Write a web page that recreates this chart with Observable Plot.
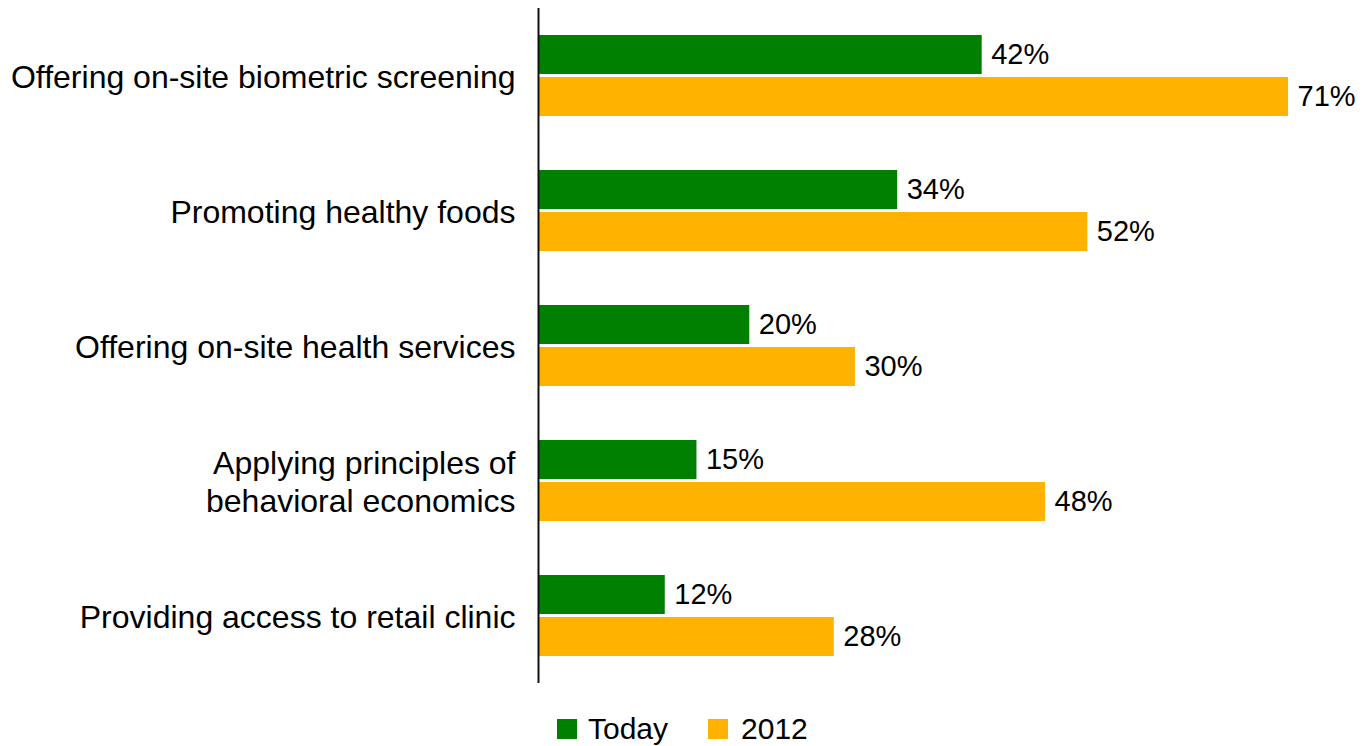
<!DOCTYPE html>
<html>
<head>
<meta charset="utf-8">
<script src="https://cdn.jsdelivr.net/npm/d3@7"></script>
<script src="https://cdn.jsdelivr.net/npm/@observablehq/plot@0.6"></script>
<style>
  body { margin: 0; background: #fff; font-family: "Liberation Sans", Arial, sans-serif; }
  #legend { display: flex; align-items: center; margin-top: 22px; margin-left: 557px; font-size: 30px; line-height: 34px; color: #000; }
  .sw { width: 20px; height: 20px; display: inline-block; margin-right: 11px; }
  .item { display: flex; align-items: center; }
  .item + .item { margin-left: 40px; }
  .item:last-child .sw { margin-right: 13px; }
</style>
</head>
<body>
<div id="chart"></div>
<div id="legend"></div>
<script>
const categories = [
  "Offering on-site biometric screening",
  "Promoting healthy foods",
  "Offering on-site health services",
  "Applying principles of\nbehavioral economics",
  "Providing access to retail clinic"
];
const series = ["Today", "2012"];
const todayValues = [42, 34, 20, 15, 12];
const values2012 = [71, 52, 30, 48, 28];
const colors = ["#008000", "#ffb300"];

const data = categories.flatMap((c, i) => [
  {category: c, series: "Today", value: todayValues[i]},
  {category: c, series: "2012", value: values2012[i]}
]);

const chart = Plot.plot({
  width: 1364,
  height: 690,
  marginLeft: 538,
  marginRight: 2,
  marginTop: 8,
  marginBottom: 7,
  style: {fontFamily: "'Liberation Sans', Arial, sans-serif", fontSize: "32px", color: "#000", background: "#fff"},
  x: {domain: [0, 78], axis: null},
  y: {domain: series, axis: null, paddingInner: 0.07, paddingOuter: 0.62},
  fy: {domain: categories, padding: 0, axis: null},
  color: {domain: series, range: colors},
  marks: [
    Plot.barX(data, {fy: "category", y: "series", x: "value", fill: "series"}),
    Plot.text(data, {fy: "category", y: "series", x: "value", text: d => d.value + "%", textAnchor: "start", dx: 9, fontSize: 29, fill: "#000"}),
    Plot.axisFy({anchor: "left", tickSize: 0, tickPadding: 23, label: null, fontSize: 32, lineHeight: 1.2, fill: "#000"}),
    Plot.ruleX([0], {stroke: "#111", strokeWidth: 2})
  ]
});
document.getElementById("chart").appendChild(chart);

const legend = document.getElementById("legend");
series.forEach((s, i) => {
  const item = document.createElement("div");
  item.className = "item";
  const sw = document.createElement("span");
  sw.className = "sw";
  sw.style.background = colors[i];
  item.appendChild(sw);
  item.appendChild(document.createTextNode(s));
  legend.appendChild(item);
});
</script>
</body>
</html>
